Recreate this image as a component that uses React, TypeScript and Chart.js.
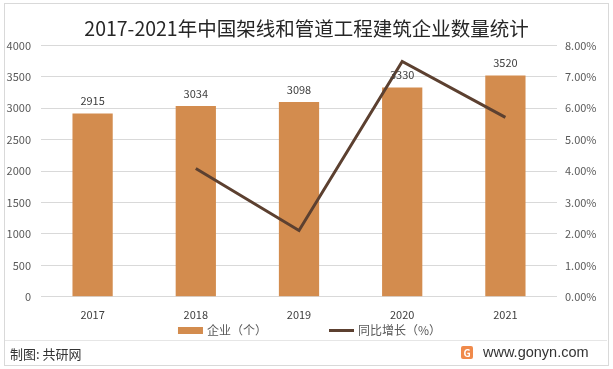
import React, { useEffect, useRef } from "react";
import { Chart, registerables } from "chart.js";

Chart.register(...registerables);

const TITLE = "2017-2021年中国架线和管道工程建筑企业数量统计";
const categories = ["2017", "2018", "2019", "2020", "2021"];
const companies = [2915, 3034, 3098, 3330, 3520];
const growth = [null, 4.08, 2.11, 7.49, 5.71];
const barLabel = "企业（个）";
const lineLabel = "同比增长（%）";
const FONT = "'Noto Sans CJK SC', 'Noto Sans', sans-serif";

const barColor = "#D38C4E";
const lineColor = "#5C4030";

const labelPlugin = {
  id: "barLabels",
  afterDatasetsDraw(chart: any) {
    const ctx = chart.ctx;
    const meta = chart.getDatasetMeta(1);
    ctx.save();
    ctx.font = `11px ${FONT}`;
    ctx.fillStyle = "#404040";
    ctx.textAlign = "center";
    ctx.textBaseline = "bottom";
    meta.data.forEach((el: any, i: number) => {
      ctx.fillText(String(companies[i]), el.x, el.y - 7);
    });
    ctx.restore();
  },
};

const legendPlugin = {
  id: "customLegend",
  afterDraw(chart: any) {
    const ctx = chart.ctx;
    ctx.save();
    ctx.font = `12px ${FONT}`;
    ctx.textBaseline = "middle";
    ctx.textAlign = "left";
    const sw = 25, gapText = 4, gapItem = 62;
    const w1 = ctx.measureText(barLabel).width;
    const w2 = ctx.measureText(lineLabel).width;
    const total = sw + gapText + w1 + gapItem + sw + gapText + w2;
    let x = chart.width / 2 + 3 - total / 2;
    const y = 330.5;
    ctx.fillStyle = barColor;
    ctx.fillRect(x, y - 3.5, sw, 7);
    x += sw + gapText;
    ctx.fillStyle = "#595959";
    ctx.fillText(barLabel, x, y);
    x += w1 + gapItem;
    ctx.strokeStyle = lineColor;
    ctx.lineWidth = 3;
    ctx.beginPath();
    ctx.moveTo(x, y);
    ctx.lineTo(x + sw, y);
    ctx.stroke();
    x += sw + gapText;
    ctx.fillText(lineLabel, x, y);
    ctx.restore();
  },
};

export default function App() {
  const ref = useRef<HTMLCanvasElement>(null);
  useEffect(() => {
    document.body.style.margin = "0";
    const chart = new Chart(ref.current!, {
      type: "bar",
      data: {
        labels: categories,
        datasets: [
          {
            type: "line",
            label: lineLabel,
            data: growth as any,
            yAxisID: "y1",
            borderColor: lineColor,
            backgroundColor: lineColor,
            borderWidth: 3,
            pointRadius: 0,
            tension: 0,
            order: 0,
          } as any,
          {
            type: "bar",
            label: barLabel,
            data: companies,
            yAxisID: "y",
            backgroundColor: barColor,
            categoryPercentage: 1,
            barPercentage: 0.39,
            order: 1,
          },
        ],
      },
      options: {
        responsive: false,
        animation: false,
        layout: { padding: { left: 0, right: 0, top: 0, bottom: 37 } },
        plugins: {
          title: {
            display: true,
            text: TITLE,
            color: "#262626",
            font: { family: FONT, size: 19.5, weight: "normal" },
            padding: { top: 17, bottom: 5 },
          },
          legend: { display: false },
          tooltip: { enabled: false },
        },
        scales: {
          x: {
            grid: { display: false, drawTicks: false },
            border: { display: false },
            ticks: { color: "#404040", font: { family: FONT, size: 11 }, padding: 11 },
          },
          y: {
            position: "left",
            min: 0,
            max: 4000,
            ticks: {
              stepSize: 500,
              color: "#595959",
              font: { family: FONT, size: 11 },
              padding: 10,
              callback: (v: any) => String(v),
            },
            grid: { color: "#D9D9D9", drawTicks: false },
            border: { display: false },
            afterFit: (s: any) => { s.width = 41; },
          },
          y1: {
            position: "right",
            min: 0,
            max: 8,
            ticks: {
              stepSize: 1,
              color: "#595959",
              font: { family: FONT, size: 11 },
              padding: 8,
              callback: (v: any) => Number(v).toFixed(2) + "%",
            },
            grid: { display: false, drawTicks: false },
            border: { display: false },
            afterFit: (s: any) => { s.width = 56; },
          },
        },
      },
      plugins: [labelPlugin, legendPlugin],
    } as any);
    return () => chart.destroy();
  }, []);

  return (
    <div style={{ position: "fixed", left: 0, top: 0, width: 613, height: 369, background: "#fff", fontFamily: FONT }}>
      <canvas ref={ref} width={613} height={369} style={{ position: "absolute", left: 0, top: 0 }} />
      <div style={{ position: "absolute", left: 4, top: 3, width: 603, height: 361, border: "1px solid #D9D9D9", pointerEvents: "none" }} />
      <div style={{ position: "absolute", left: 5, top: 340, width: 602, height: 1, background: "#E6E6E6" }} />
      <div style={{ position: "absolute", left: 10, top: 345, fontSize: 13, color: "#333", lineHeight: "18px" }}>制图: 共研网</div>
      <div style={{ position: "absolute", left: 461, top: 346, width: 12, height: 13, background: "#F08A4B", borderRadius: 2, color: "#fff", fontSize: 10, fontWeight: "bold", lineHeight: "13px", textAlign: "center" }}>G</div>
      <div style={{ position: "absolute", left: 483, top: 343, fontSize: 14.5, color: "#333", lineHeight: "18px", fontFamily: "'Liberation Sans', Arial, sans-serif" }}>www.gonyn.com</div>
    </div>
  );
}
